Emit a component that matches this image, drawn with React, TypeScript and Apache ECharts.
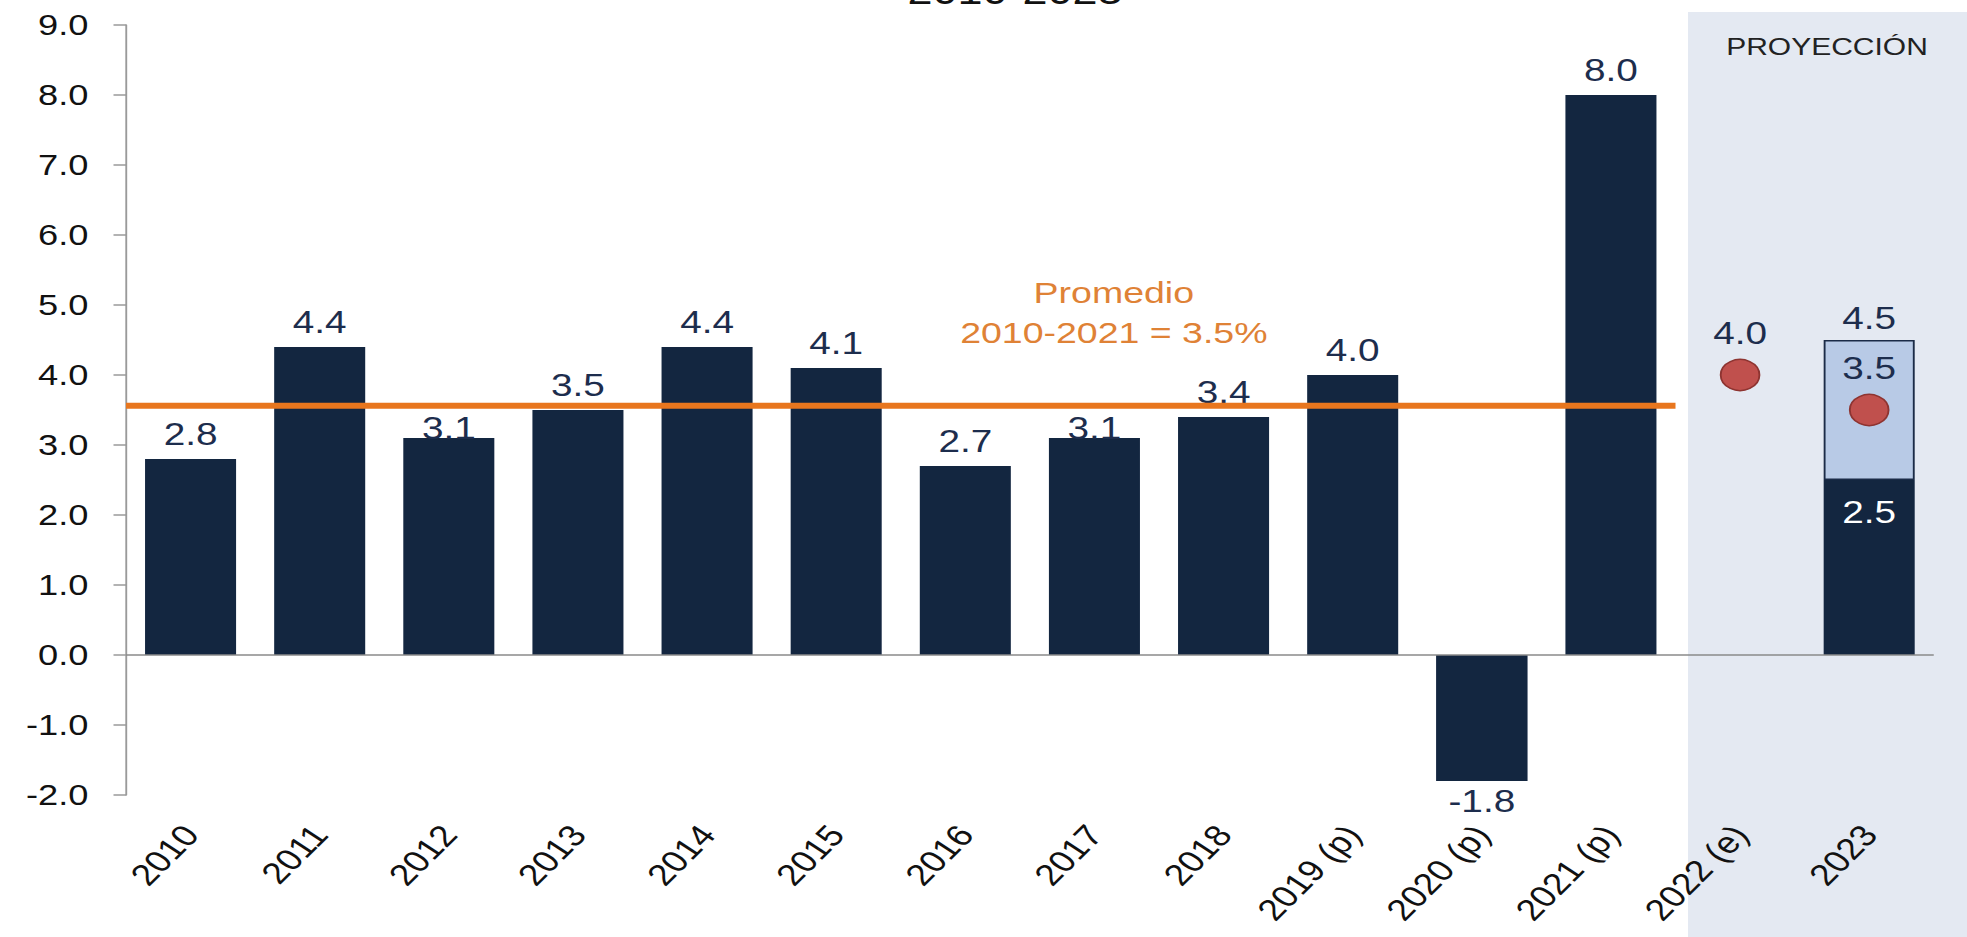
import React, { useEffect, useRef } from "react";
import * as echarts from "echarts";

// ---- data ----
const categories = [
  "2010", "2011", "2012", "2013", "2014", "2015", "2016", "2017", "2018",
  "2019 (p)", "2020 (p)", "2021 (p)", "2022 (e)", "2023",
];
const growth = [2.8, 4.4, 3.1, 3.5, 4.4, 4.1, 2.7, 3.1, 3.4, 4.0, -1.8, 8.0, null, 2.5];
const rangeLow = [null, null, null, null, null, null, null, null, null, null, null, null, null, 2.5];
const rangeHigh = [null, null, null, null, null, null, null, null, null, null, null, null, null, 4.5];
const pointForecast = [null, null, null, null, null, null, null, null, null, null, null, null, 4.0, 3.5];
const averageValue = 3.56;
const averageSpan = [0, 12];
const averageText = ["Promedio", "2010-2021 = 3.5%"];
const titleText = "2010-2023";
const projectionText = "PROYECCIÓN";
const yMin = -2;
const yMax = 9;
const yInterval = 1;

// ---- layout ----
const STRETCH = 1.25;
const FULL_W = 1967;
const FULL_H = 937;
const W = FULL_W / STRETCH;
const FONT = "'Liberation Sans', Arial, sans-serif";
const NAVY = "#132640";
const LABEL_NAVY = "#1d2d4d";
const ORANGE = "#e8761e";
// labels placed lower in the original (to clear the average line)
const loweredLabels = new Set(["2012", "2017"]);

export default function App() {
  const ref = useRef<HTMLDivElement>(null);

  useEffect(() => {
    if (!ref.current) return;
    const chart = echarts.init(ref.current, null, { renderer: "svg" });

    const growthData = growth.map((v, i) => {
      if (v === null) return null;
      if (rangeLow[i] !== null) {
        return {
          value: v,
          label: { position: "insideTop", color: "#ffffff", distance: 16 },
        };
      }
      if (loweredLabels.has(categories[i])) {
        return { value: v, label: { distance: -5 } };
      }
      return v;
    });
    const rangeData = rangeHigh.map((h, i) =>
      h === null || rangeLow[i] === null ? null : +(h - (rangeLow[i] as number)).toFixed(2)
    );

    const option: any = {
      animation: false,
      backgroundColor: "#ffffff",
      grid: {
        left: 100.8,
        right: 27,
        top: 25,
        bottom: 142,
        containLabel: false,
        outerBoundsMode: "none",
      },
      graphic: [
        {
          type: "rect",
          z: -10,
          shape: { x: 1688 / STRETCH, y: 12, width: W - 1688 / STRETCH, height: FULL_H - 12 },
          style: { fill: "#e4e9f2" },
          silent: true,
        },
        {
          type: "text",
          z: 5,
          x: 1827 / STRETCH,
          y: 47,
          style: {
            text: projectionText,
            font: `24px ${FONT}`,
            fill: "#222222",
            textAlign: "center",
            textVerticalAlign: "middle",
          },
        },
        {
          type: "text",
          z: 5,
          x: 1015 / STRETCH,
          y: -8,
          style: {
            text: titleText,
            font: `36px ${FONT}`,
            fill: "#111111",
            textAlign: "center",
            textVerticalAlign: "middle",
          },
        },
      ],
      xAxis: [
        {
          type: "category",
          data: categories,
          axisLine: { show: false, onZero: false },
          axisTick: { show: false },
          axisLabel: {
            interval: 0,
            rotate: 51,
            margin: 34,
            color: "#111111",
            fontFamily: FONT,
            fontSize: 30,
          },
        },
        {
          type: "value",
          min: 0,
          max: categories.length,
          show: false,
        },
      ],
      yAxis: {
        type: "value",
        min: yMin,
        max: yMax,
        interval: yInterval,
        splitLine: { show: false },
        axisLine: { show: true, lineStyle: { color: "#9a9a9a", width: 1.5 } },
        axisTick: { show: true, length: 10, lineStyle: { color: "#9a9a9a", width: 1.5 } },
        axisLabel: {
          margin: 30,
          color: "#111111",
          fontFamily: FONT,
          fontSize: 29,
          formatter: (v: number) => v.toFixed(1),
        },
      },
      series: [
        {
          type: "bar",
          name: "growth",
          stack: "g",
          xAxisIndex: 0,
          data: growthData,
          barCategoryGap: "29.5%",
          itemStyle: { color: NAVY },
          label: {
            show: true,
            position: "top",
            distance: 10,
            color: LABEL_NAVY,
            fontFamily: FONT,
            fontSize: 31,
            formatter: (p: any) => (p.value < 0 ? "" : Number(p.value).toFixed(1)),
          },
          markLine: {
            silent: true,
            symbol: ["none", "none"],
            label: { show: false },
            lineStyle: { color: "#8a8a8a", width: 1.5, type: "solid" },
            data: [{ yAxis: 0 }],
          },
          z: 3,
        },
        {
          type: "bar",
          name: "negLabel",
          xAxisIndex: 0,
          barGap: "-100%",
          data: growth.map((v) => (v !== null && v < 0 ? v : null)),
          itemStyle: { color: NAVY },
          label: {
            show: true,
            position: "bottom",
            distance: 4,
            color: LABEL_NAVY,
            fontFamily: FONT,
            fontSize: 31,
            formatter: (p: any) => Number(p.value).toFixed(1),
          },
          z: 3,
        },
        {
          type: "bar",
          name: "range",
          stack: "g",
          xAxisIndex: 0,
          data: rangeData,
          itemStyle: { color: "#b8cae6", borderColor: "#1b2b47", borderWidth: 1.5 },
          label: {
            show: true,
            position: "top",
            distance: 7,
            color: LABEL_NAVY,
            fontFamily: FONT,
            fontSize: 31,
            formatter: (p: any) =>
              rangeHigh[p.dataIndex] === null ? "" : (rangeHigh[p.dataIndex] as number).toFixed(1),
          },
          z: 3,
        },
        {
          type: "line",
          name: "average",
          xAxisIndex: 1,
          data: [
            [averageSpan[0], averageValue],
            [averageSpan[1], averageValue],
          ],
          symbol: "none",
          lineStyle: { color: ORANGE, width: 6 },
          z: 4,
          markPoint: {
            symbol: "circle",
            symbolSize: 0,
            data: [{ coord: [7.65, averageValue] }],
            label: {
              show: true,
              position: "top",
              distance: 53,
              formatter: averageText.join("\n"),
              color: "#df8236",
              fontFamily: FONT,
              fontSize: 30,
              lineHeight: 40,
              align: "center",
            },
          },
        },
        {
          type: "scatter",
          name: "forecast",
          xAxisIndex: 0,
          data: pointForecast,
          symbol: "circle",
          symbolSize: 31,
          itemStyle: { color: "#c0504d", borderColor: "#8e3431", borderWidth: 1.5, opacity: 1 },
          label: {
            show: true,
            position: "top",
            distance: 10,
            color: LABEL_NAVY,
            fontFamily: FONT,
            fontSize: 31,
            formatter: (p: any) => Number(p.value).toFixed(1),
          },
          z: 6,
        },
      ],
    };

    chart.setOption(option);
    return () => chart.dispose();
  }, []);

  return (
    <div
      style={{
        position: "fixed",
        left: 0,
        top: 0,
        width: FULL_W,
        height: FULL_H,
        overflow: "hidden",
        background: "#ffffff",
      }}
    >
      <div
        ref={ref}
        style={{
          width: W,
          height: FULL_H,
          transform: `scaleX(${STRETCH})`,
          transformOrigin: "0 0",
        }}
      />
    </div>
  );
}
